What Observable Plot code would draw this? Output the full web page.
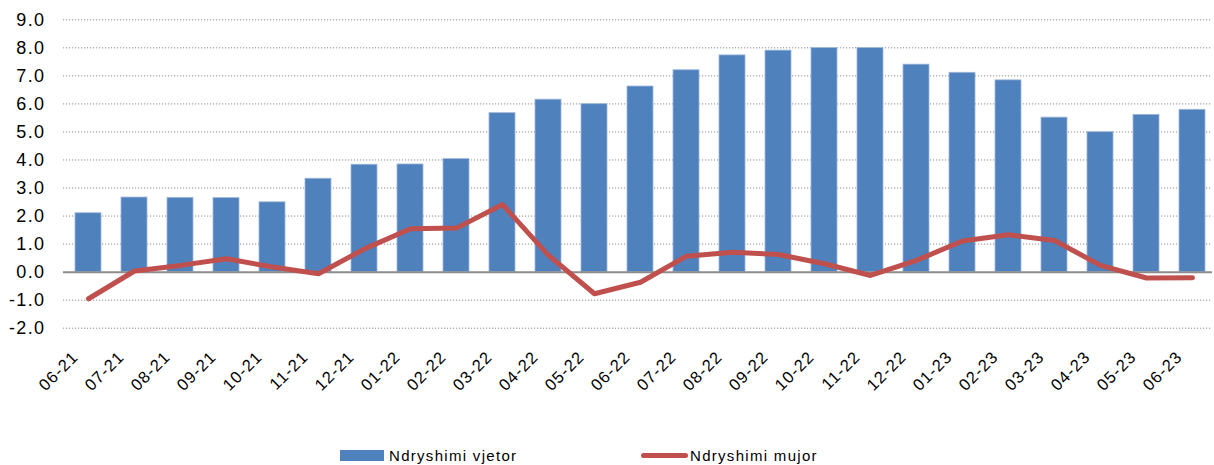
<!DOCTYPE html>
<html>
<head>
<meta charset="utf-8">
<script src="https://cdn.jsdelivr.net/npm/d3@7"></script>
<script src="https://cdn.jsdelivr.net/npm/@observablehq/plot@0.6"></script>
<style>
  html, body { margin: 0; padding: 0; background: #fff; }
  #wrap { position: relative; width: 1214px; height: 465px; overflow: hidden; font-family: "Liberation Sans", Arial, sans-serif; }
  #wrap svg { display: block; }
  .leg { position: absolute; }
  .legtxt { font-size: 15px; line-height: 15px; letter-spacing: 1.3px; color: #000; white-space: nowrap; }
</style>
</head>
<body>
<div id="wrap"></div>
<script>
const months = ["06-21","07-21","08-21","09-21","10-21","11-21","12-21","01-22","02-22","03-22","04-22","05-22","06-22","07-22","08-22","09-22","10-22","11-22","12-22","01-23","02-23","03-23","04-23","05-23","06-23"];
const yearly = [2.10,2.66,2.65,2.64,2.49,3.33,3.83,3.84,4.03,5.67,6.15,5.99,6.62,7.20,7.73,7.90,7.99,7.99,7.40,7.11,6.84,5.51,4.99,5.61,5.79];
const monthly = [-0.95,0.04,0.24,0.48,0.18,-0.06,0.83,1.55,1.57,2.41,0.60,-0.77,-0.36,0.57,0.71,0.63,0.30,-0.12,0.42,1.11,1.33,1.13,0.24,-0.21,-0.20];
const yTicks = [-2,-1,0,1,2,3,4,5,6,7,8,9];
const seriesNames = ["Ndryshimi vjetor", "Ndryshimi mujor"];

const data = months.map((m, i) => ({month: m, yearly: yearly[i], monthly: monthly[i]}));

const chart = Plot.plot({
  width: 1214,
  height: 440,
  marginLeft: 63,
  marginRight: 2,
  marginTop: 19.3,
  marginBottom: 112.3,
  style: {fontFamily: "'Liberation Sans', Arial, sans-serif", color: "#000"},
  x: {domain: months, range: [63, 1217], paddingInner: 0.435, paddingOuter: 0.2175, axis: null},
  y: {domain: [-2, 9], axis: null},
  marks: [
    Plot.ruleY(yTicks.filter(d => d !== 0), {stroke: "#8c8c8c", strokeWidth: 1, strokeDasharray: "1.2,1.8"}),
    Plot.barY(data, {x: "month", y: "yearly", fill: "#4F81BD", stroke: "#9db6d9", strokeWidth: 0.8}),
    Plot.ruleY([0], {stroke: "#8c8c8c", strokeWidth: 2}),
    Plot.line(data, {x: "month", y: "monthly", stroke: "#C0504D", strokeWidth: 5, strokeLinejoin: "round", strokeLinecap: "round"}),
    Plot.text(yTicks, {y: d => d, text: d => d.toFixed(1), frameAnchor: "left", textAnchor: "end", dx: -18, fontSize: 18, fill: "#000"}),
    Plot.text(months, {x: d => d, text: d => d, frameAnchor: "bottom", textAnchor: "end", lineAnchor: "middle", rotate: -45, dx: -13, dy: 26, fontSize: 16.5, fill: "#000"})
  ]
});

chart.querySelectorAll("text").forEach(t => {
  t.style.letterSpacing = /^-?\d\.\d$/.test(t.textContent) ? "1.4px" : "1.1px";
});

const wrap = document.getElementById("wrap");
wrap.appendChild(chart);

const leg = [
  {cls: "leg", style: "left:340px;top:450px;width:44px;height:11px;background:#4F81BD;"},
  {cls: "leg legtxt", style: "left:389px;top:448px;", text: seriesNames[0]},
  {cls: "leg", style: "left:641px;top:453px;width:47px;height:4.5px;border-radius:2.5px;background:#C0504D;"},
  {cls: "leg legtxt", style: "left:690px;top:448px;", text: seriesNames[1]}
];
for (const l of leg) {
  const d = document.createElement("div");
  d.className = l.cls;
  d.setAttribute("style", l.style);
  if (l.text) d.textContent = l.text;
  wrap.appendChild(d);
}
</script>
</body>
</html>
